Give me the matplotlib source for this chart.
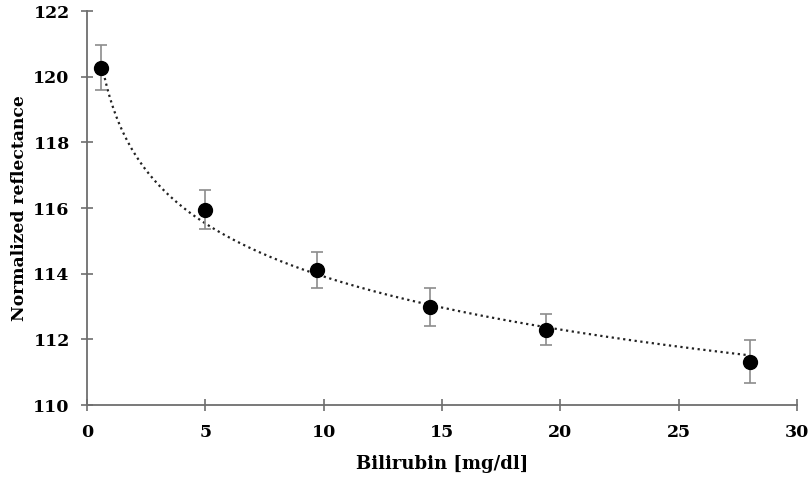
import numpy as np
import matplotlib.pyplot as plt

# bilirubin concentration vs normalized reflectance
bilirubin = [0.6, 5.0, 9.7, 14.5, 19.4, 28.0]
reflectance = [120.28, 115.95, 114.1, 112.98, 112.3, 111.32]
err = [0.68, 0.6, 0.55, 0.57, 0.47, 0.65]

# logarithmic trendline
b, a = np.polyfit(np.log(bilirubin), reflectance, 1)
xfit = np.linspace(bilirubin[0], bilirubin[-1], 300)
yfit = a + b * np.log(xfit)

plt.rcParams['font.family'] = ['DejaVu Serif']

fig = plt.figure(figsize=(8.1, 4.84), dpi=100)
ax = fig.add_axes([0.1074, 0.1632, 0.8766, 0.8138])

ax.plot(xfit, yfit, color='#222222', linestyle=(0, (1, 1.6)), linewidth=1.6, zorder=2)
ax.errorbar(bilirubin, reflectance, yerr=err, fmt='o', color='black',
            markersize=10, ecolor='#8c8c8c', elinewidth=1.2, capsize=4,
            capthick=1.2, zorder=3)

ax.set_xlim(0, 30)
ax.set_ylim(110, 122)
ax.set_xticks(np.arange(0, 31, 5))
ax.set_yticks(np.arange(110, 123, 2))

for side in ['top', 'right']:
    ax.spines[side].set_visible(False)
for side in ['left', 'bottom']:
    ax.spines[side].set_color('#6e6e6e')
    ax.spines[side].set_linewidth(1.3)

ax.tick_params(direction='inout', length=9, width=1.2, color='#6e6e6e',
               labelsize=12.5)
ax.tick_params(axis='x', pad=9)
ax.tick_params(axis='y', pad=8)
for lbl in ax.get_xticklabels() + ax.get_yticklabels():
    lbl.set_fontweight('bold')

ax.set_xlabel('Bilirubin [mg/dl]', fontsize=13, fontweight='bold', labelpad=10)
ax.set_ylabel('Normalized reflectance', fontsize=12.3, fontweight='bold', labelpad=4)

fig.savefig('out.png', dpi=100)
